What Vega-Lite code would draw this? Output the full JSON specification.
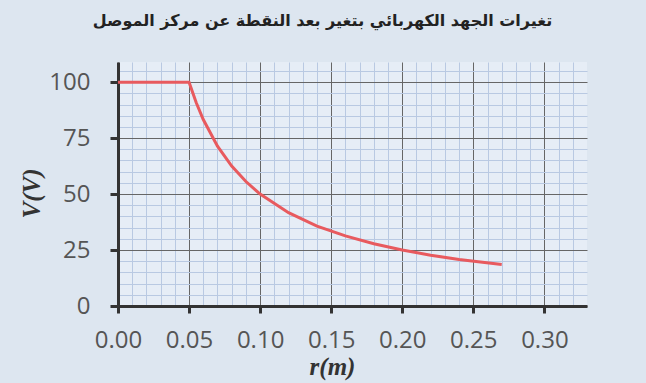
{
  "$schema": "https://vega.github.io/schema/vega-lite/v6.json",
  "autosize": "none",
  "width": 469,
  "height": 244,
  "padding": {"left": 118, "top": 62, "right": 59, "bottom": 77},
  "background": "#dde6f0",
  "title": {
    "text": "تغيرات الجهد الكهربائي بتغير بعد النقطة عن مركز الموصل",
    "font": "DejaVu Sans",
    "fontSize": 16,
    "fontWeight": "bold",
    "color": "#222",
    "anchor": "middle",
    "dx": -30,
    "offset": 30
  },
  "data": {
    "values": [
      {"r": 0.0, "V": 100},
      {"r": 0.05, "V": 100},
      {"r": 0.055, "V": 90.9},
      {"r": 0.06, "V": 83.3},
      {"r": 0.07, "V": 71.4},
      {"r": 0.08, "V": 62.5},
      {"r": 0.09, "V": 55.6},
      {"r": 0.10, "V": 50},
      {"r": 0.12, "V": 41.7},
      {"r": 0.14, "V": 35.7},
      {"r": 0.16, "V": 31.3},
      {"r": 0.18, "V": 27.8},
      {"r": 0.20, "V": 25},
      {"r": 0.22, "V": 22.7},
      {"r": 0.24, "V": 20.8},
      {"r": 0.27, "V": 18.5}
    ]
  },
  "config": {
    "view": {"fill": "#e6edf6", "stroke": null},
    "axis": {
      "labelFont": "Open Sans",
      "labelFontSize": 24,
      "labelColor": "#555",
      "labelOverlap": false,
      "labelBound": false,
      "labelFlush": false,
      "domainColor": "#333",
      "domainWidth": 3,
      "gridWidth": 1,
      "titleFont": "Liberation Serif",
      "titleFontSize": 25,
      "titleFontWeight": "bold",
      "titleFontStyle": "italic",
      "titleColor": "#333"
    }
  },
  "mark": {"type": "line", "color": "#e85a5e", "strokeWidth": 3},
  "encoding": {
    "x": {
      "field": "r",
      "type": "quantitative",
      "scale": {"domain": [0, 0.33], "nice": false, "zero": false},
      "axis": {
        "title": "r(m)",
        "titlePadding": 2,
        "titleX": 214,
        "values": [0,0.01,0.02,0.03,0.04,0.05,0.06,0.07,0.08,0.09,0.1,0.11,0.12,0.13,0.14,0.15,0.16,0.17,0.18,0.19,0.2,0.21,0.22,0.23,0.24,0.25,0.26,0.27,0.28,0.29,0.3,0.31,0.32],
        "labelExpr": "round(datum.value*100) % 5 == 0 ? format(datum.value, '.2f') : ''",
        "labelPadding": 15,
        "gridColor": {"condition": {"test": "round(datum.value*100) % 5 == 0", "value": "#666"}, "value": "#b9c9e2"},
        "tickColor": "#333",
        "tickWidth": 3,
        "tickSize": 7,
        "tickOpacity": {"condition": {"test": "round(datum.value*100) % 5 == 0", "value": 1}, "value": 0}
      }
    },
    "y": {
      "field": "V",
      "type": "quantitative",
      "scale": {"domain": [0, 109], "nice": false},
      "axis": {
        "title": "V(V)",
        "titlePadding": 4,
        "titleY": 131,
        "values": [0,5,10,15,20,25,30,35,40,45,50,55,60,65,70,75,80,85,90,95,100,105],
        "labelExpr": "datum.value % 25 == 0 ? datum.value : ''",
        "labelPadding": 20,
        "gridColor": {"condition": {"test": "datum.value % 25 == 0", "value": "#666"}, "value": "#b9c9e2"},
        "tickColor": "#333",
        "tickWidth": 3,
        "tickSize": 8,
        "tickOpacity": {"condition": {"test": "datum.value % 25 == 0", "value": 1}, "value": 0}
      }
    }
  }
}
